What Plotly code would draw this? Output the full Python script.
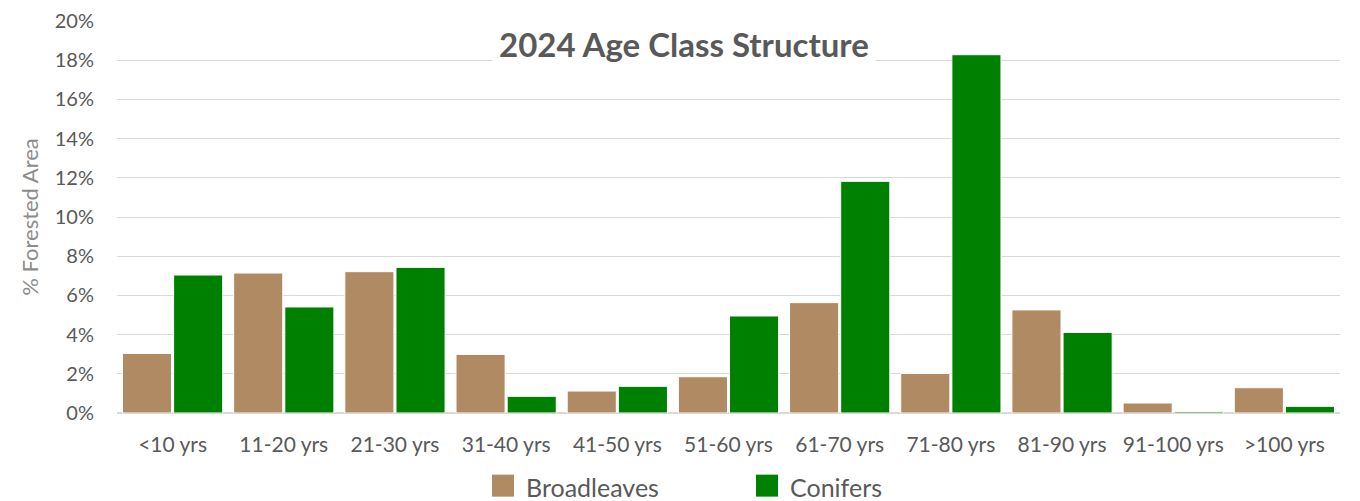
import plotly.graph_objects as go

categories = ["<10 yrs", "11-20 yrs", "21-30 yrs", "31-40 yrs", "41-50 yrs", "51-60 yrs",
              "61-70 yrs", "71-80 yrs", "81-90 yrs", "91-100 yrs", ">100 yrs"]
broadleaves = [0.0304, 0.0714, 0.0721, 0.0299, 0.0112, 0.0185, 0.0563, 0.0202, 0.0526, 0.0051, 0.0129]
conifers = [0.0704, 0.0541, 0.0743, 0.0085, 0.0136, 0.0495, 0.1182, 0.1828, 0.0411, 0.0007, 0.0034]
series_names = ["Broadleaves", "Conifers"]
series_colors = ["#B08A62", "#008000"]
title_text = "2024 Age Class Structure"
y_title = "% Forested Area"

FONT = "Lato"
TXT = "#595959"

fig = go.Figure()
for name, vals, col in zip(series_names, [broadleaves, conifers], series_colors):
    fig.add_trace(go.Bar(x=categories, y=vals, name=name, marker=dict(color=col, line=dict(color="white", width=1)),
                         showlegend=False))

fig.update_layout(
    width=1360, height=501,
    paper_bgcolor="white", plot_bgcolor="white",
    margin=dict(l=117, r=20, t=21, b=88, autoexpand=False),
    barmode="group", bargap=0.08, bargroupgap=0.04,
    font=dict(family=FONT, color=TXT),
    xaxis=dict(showgrid=False, showline=False, ticks="", tickfont=dict(size=21, color=TXT),
               ticklabelstandoff=17, automargin=False),
    yaxis=dict(range=[0, 0.2], dtick=0.02, tickformat=".0%", showgrid=True, gridcolor="#d9d9d9",
               gridwidth=1, zeroline=True, zerolinecolor="#d9d9d9", showline=False, ticks="",
               tickfont=dict(size=20, color=TXT), ticklabelstandoff=22, automargin=False,
               title=dict(text=y_title, font=dict(size=22, color="#8c8c8c"), standoff=10)),
)

fig.add_annotation(text="<b>" + title_text + "</b>", xref="paper", yref="paper",
                   x=0.464, y=0.941, xanchor="center", yanchor="middle", showarrow=False,
                   font=dict(size=33, color=TXT, family=FONT), bgcolor="white", borderpad=6)

# manual legend
leg_x0 = [492, 756]
for name, col, x0 in zip(series_names, series_colors, leg_x0):
    fig.add_shape(type="rect", xref="paper", yref="paper",
                  x0=(x0 - 117) / 1223, x1=(x0 + 22 - 117) / 1223,
                  y0=(413.3 - 497) / 392.3, y1=(413.3 - 475) / 392.3,
                  fillcolor=col, line=dict(width=0))
    fig.add_annotation(text=name, xref="paper", yref="paper", x=(x0 + 32 - 117) / 1223,
                       y=(413.3 - 487) / 392.3, xanchor="left", yanchor="middle", showarrow=False,
                       font=dict(size=25, color=TXT, family=FONT))

fig.write_html("out.html", config={"displayModeBar": False},
               post_script="document.body.style.margin='0';")
